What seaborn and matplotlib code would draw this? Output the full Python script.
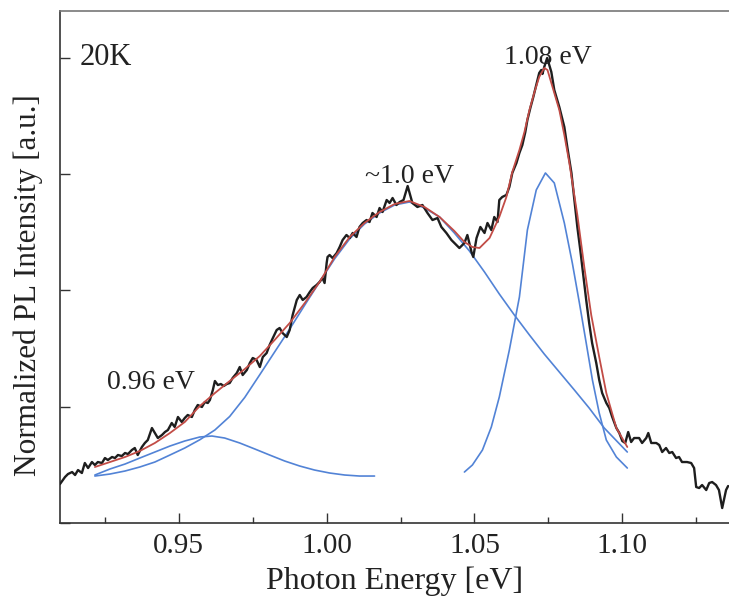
import matplotlib
matplotlib.use("Agg")
import matplotlib.pyplot as plt
from matplotlib.ticker import MultipleLocator, NullFormatter
import numpy as np
import pandas as pd
import seaborn as sns

# Measured PL spectrum at 20 K (photon energy in eV, normalized intensity)
pl_energy = [
    0.9098, 0.9115, 0.9125, 0.9139, 0.9149, 0.9159, 0.9172, 0.9182, 0.9193, 0.9206,
    0.9216, 0.9226, 0.9240, 0.9250, 0.9260, 0.9274, 0.9284, 0.9294, 0.9307, 0.9318,
    0.9328, 0.9341, 0.9351, 0.9361, 0.9375, 0.9385, 0.9395, 0.9409, 0.9419, 0.9429,
    0.9443, 0.9453, 0.9463, 0.9476, 0.9486, 0.9497, 0.9510, 0.9520, 0.9530, 0.9544,
    0.9554, 0.9564, 0.9578, 0.9588, 0.9598, 0.9605, 0.9615, 0.9622, 0.9632, 0.9642,
    0.9652, 0.9662, 0.9672, 0.9682, 0.9696, 0.9706, 0.9716, 0.9730, 0.9740, 0.9750,
    0.9763, 0.9774, 0.9784, 0.9797, 0.9807, 0.9818, 0.9831, 0.9841, 0.9851, 0.9865,
    0.9875, 0.9885, 0.9899, 0.9909, 0.9919, 0.9932, 0.9943, 0.9953, 0.9966, 0.9976,
    0.9986, 0.9993, 1.0000, 1.0003, 1.0010, 1.0020, 1.0034, 1.0044, 1.0054, 1.0067,
    1.0078, 1.0088, 1.0101, 1.0111, 1.0122, 1.0135, 1.0145, 1.0155, 1.0169, 1.0179,
    1.0189, 1.0203, 1.0213, 1.0223, 1.0236, 1.0247, 1.0260, 1.0274, 1.0290, 1.0307,
    1.0324, 1.0341, 1.0358, 1.0375, 1.0388, 1.0405, 1.0422, 1.0439, 1.0449, 1.0466,
    1.0476, 1.0490, 1.0496, 1.0507, 1.0520, 1.0534, 1.0544, 1.0557, 1.0567, 1.0578,
    1.0584, 1.0594, 1.0608, 1.0618, 1.0628, 1.0642, 1.0652, 1.0662, 1.0672, 1.0679,
    1.0689, 1.0699, 1.0709, 1.0719, 1.0726, 1.0730, 1.0736, 1.0746, 1.0760, 1.0770,
    1.0787, 1.0804, 1.0814, 1.0828, 1.0838, 1.0848, 1.0858, 1.0868, 1.0878, 1.0888,
    1.0898, 1.0912, 1.0922, 1.0932, 1.0946, 1.0956, 1.0966, 1.0980, 1.0990, 1.1000,
    1.1010, 1.1020, 1.1030, 1.1040, 1.1057, 1.1067, 1.1081, 1.1088, 1.1098, 1.1115,
    1.1125, 1.1135, 1.1148, 1.1159, 1.1169, 1.1182, 1.1192, 1.1202, 1.1219, 1.1233,
    1.1243, 1.1250, 1.1260, 1.1270, 1.1284, 1.1294, 1.1304, 1.1317, 1.1327, 1.1338,
    1.1351, 1.1358,
]
pl_intensity = [
    0.0838, 0.0989, 0.1053, 0.1096, 0.1032, 0.1139, 0.1075, 0.1290, 0.1182, 0.1311,
    0.1247, 0.1311, 0.1290, 0.1397, 0.1354, 0.1419, 0.1397, 0.1462, 0.1440, 0.1505,
    0.1483, 0.1569, 0.1612, 0.1462, 0.1634, 0.1720, 0.1784, 0.2042, 0.1935, 0.1827,
    0.1892, 0.1956, 0.1999, 0.2150, 0.2064, 0.2279, 0.2171, 0.2257, 0.2322, 0.2279,
    0.2429, 0.2537, 0.2494, 0.2601, 0.2580, 0.2644, 0.2859, 0.3052, 0.2966, 0.2988,
    0.2945, 0.2988, 0.3009, 0.3117, 0.3224, 0.3353, 0.3181, 0.3289, 0.3439, 0.3547,
    0.3504, 0.3353, 0.3568, 0.3654, 0.3826, 0.3977, 0.4149, 0.4192, 0.4084, 0.3998,
    0.4149, 0.4471, 0.4794, 0.4901, 0.4794, 0.4858, 0.4966, 0.5052, 0.5116, 0.5181,
    0.5267, 0.5159, 0.5589, 0.5718, 0.5761, 0.5696, 0.5804, 0.5933, 0.6083, 0.6191,
    0.6126, 0.6234, 0.6148, 0.6363, 0.6449, 0.6513, 0.6470, 0.6664, 0.6578, 0.6771,
    0.6685, 0.6943, 0.6879, 0.6986, 0.6836, 0.6900, 0.6943, 0.7244, 0.6879, 0.6793,
    0.6836, 0.6664, 0.6513, 0.6556, 0.6363, 0.6234, 0.6083, 0.5976, 0.5911, 0.6019,
    0.6191, 0.5825, 0.5718, 0.6126, 0.6363, 0.6234, 0.6449, 0.6298, 0.6578, 0.6470,
    0.6943, 0.7008, 0.7051, 0.7223, 0.7524, 0.7739, 0.7954, 0.8125, 0.8405, 0.8663,
    0.8921, 0.9157, 0.9415, 0.9673, 0.9738, 0.9652, 0.9802, 0.9996, 0.9695, 0.9308,
    0.8942, 0.8512, 0.8082, 0.7524, 0.6943, 0.6363, 0.5868, 0.5331, 0.4794, 0.4299,
    0.3869, 0.3439, 0.3074, 0.2794, 0.2580, 0.2472, 0.2279, 0.2042, 0.1935, 0.1763,
    0.1720, 0.1956, 0.1741, 0.1827, 0.1827, 0.1720, 0.1827, 0.1935, 0.1720, 0.1720,
    0.1677, 0.1526, 0.1612, 0.1505, 0.1526, 0.1397, 0.1419, 0.1311, 0.1311, 0.1290,
    0.1182, 0.0774, 0.0752, 0.0817, 0.0709, 0.0860, 0.0881, 0.0817, 0.0709, 0.0322,
    0.0709, 0.0795,
]

# Total fit (sum of components)
fit_energy = [
    0.9216, 0.9267, 0.9318, 0.9368, 0.9419, 0.9470, 0.9520, 0.9571, 0.9622, 0.9672,
    0.9723, 0.9774, 0.9824, 0.9875, 0.9926, 0.9976, 1.0027, 1.0078, 1.0128, 1.0179,
    1.0230, 1.0280, 1.0331, 1.0382, 1.0432, 1.0466, 1.0493, 1.0517, 1.0551, 1.0584,
    1.0608, 1.0628, 1.0652, 1.0669, 1.0686, 1.0703, 1.0719, 1.0736, 1.0747, 1.0760,
    1.0787, 1.0804, 1.0821, 1.0848, 1.0872, 1.0895, 1.0922, 1.0946, 1.0980, 1.1017,
]
fit_total = [
    0.1204, 0.1311, 0.1419, 0.1548, 0.1720, 0.1935, 0.2171, 0.2515, 0.2794, 0.3052,
    0.3310, 0.3590, 0.3934, 0.4299, 0.4729, 0.5181, 0.5718, 0.6148, 0.6449, 0.6685,
    0.6857, 0.6922, 0.6793, 0.6578, 0.6277, 0.6040, 0.5933, 0.5911, 0.6126, 0.6578,
    0.7008, 0.7545, 0.8018, 0.8405, 0.8878, 0.9265, 0.9587, 0.9781, 0.9738, 0.9458,
    0.8878, 0.8340, 0.7739, 0.6621, 0.5481, 0.4471, 0.3568, 0.2794, 0.2042, 0.1634,
]

# Fit component peaked near 0.96 eV
peak096_energy = [
    0.9216, 0.9267, 0.9318, 0.9368, 0.9419, 0.9470, 0.9520, 0.9571, 0.9612, 0.9655,
    0.9706, 0.9757, 0.9807, 0.9858, 0.9909, 0.9959, 1.0010, 1.0061, 1.0111, 1.0162,
]
peak096_intensity = [
    0.1032, 0.1161, 0.1268, 0.1397, 0.1526, 0.1655, 0.1763, 0.1849, 0.1870, 0.1827,
    0.1720, 0.1591, 0.1462, 0.1333, 0.1225, 0.1139, 0.1075, 0.1032, 0.1010, 0.1010,
]

# Broad fit component near 1.0 eV
peak100_energy = [
    0.9216, 0.9267, 0.9318, 0.9368, 0.9419, 0.9470, 0.9520, 0.9571, 0.9622, 0.9672,
    0.9723, 0.9774, 0.9824, 0.9875, 0.9926, 0.9976, 1.0027, 1.0078, 1.0128, 1.0179,
    1.0230, 1.0280, 1.0331, 1.0382, 1.0432, 1.0483, 1.0534, 1.0584, 1.0635, 1.0686,
    1.0736, 1.0787, 1.0838, 1.0888, 1.0939, 1.1017,
]
peak100_intensity = [
    0.1010, 0.1053, 0.1118, 0.1204, 0.1311, 0.1462, 0.1612, 0.1790, 0.2000, 0.2290,
    0.2700, 0.3190, 0.3676, 0.4170, 0.4686, 0.5181, 0.5680, 0.6110, 0.6427, 0.6664,
    0.6836, 0.6900, 0.6771, 0.6578, 0.6234, 0.5847, 0.5395, 0.4923, 0.4471, 0.4041,
    0.3633, 0.3246, 0.2859, 0.2472, 0.2042, 0.1526,
]

# Narrow fit component at 1.08 eV
peak108_energy = [
    1.0466, 1.0493, 1.0527, 1.0557, 1.0584, 1.0618, 1.0652, 1.0679, 1.0709, 1.0740,
    1.0770, 1.0804, 1.0831, 1.0855, 1.0878, 1.0899, 1.0922, 1.0946, 1.0980, 1.1017,
]
peak108_intensity = [
    0.1096, 0.1247, 0.1569, 0.2064, 0.2708, 0.3719, 0.4858, 0.6298, 0.7158, 0.7524,
    0.7309, 0.6449, 0.5589, 0.4729, 0.3869, 0.3074, 0.2365, 0.1784, 0.1419, 0.1182,
]

sns.set_theme(style="ticks")
plt.rcParams["font.family"] = ["Liberation Serif", "DejaVu Serif"]

fig = plt.figure(figsize=(7.29, 6.0), dpi=100)
fig.patch.set_facecolor("white")
ax = fig.add_axes([0.0823, 0.1283, 0.9177, 0.8534])

blue = "#5283d6"
for xs, ys in [(peak096_energy, peak096_intensity),
               (peak100_energy, peak100_intensity),
               (peak108_energy, peak108_intensity)]:
    d = pd.DataFrame({"E": xs, "I": ys})
    sns.lineplot(data=d, x="E", y="I", ax=ax, color=blue, linewidth=1.2,
                 sort=False, estimator=None, zorder=2)

spec = pd.DataFrame({"E": pl_energy, "I": pl_intensity})
sns.lineplot(data=spec, x="E", y="I", ax=ax, color="#1e1e1e", linewidth=1.7,
             sort=False, estimator=None, zorder=3)

fit = pd.DataFrame({"E": fit_energy, "I": fit_total})
sns.lineplot(data=fit, x="E", y="I", ax=ax, color="#c24c46", linewidth=1.3,
             sort=False, estimator=None, zorder=4)

ax.set_xlim(0.9098, 1.1361)
ax.set_ylim(0.0, 1.1006)

ax.xaxis.set_major_locator(MultipleLocator(0.05))
ax.xaxis.set_minor_locator(MultipleLocator(0.025))
ax.xaxis.set_major_formatter(plt.FuncFormatter(lambda v, p: f"{v:.2f}"))
ax.yaxis.set_major_locator(MultipleLocator(0.25))
ax.yaxis.set_major_formatter(NullFormatter())

ax.tick_params(axis="both", which="major", direction="in", length=7, width=1.0,
               color="#333333", labelsize=21, pad=7, labelcolor="#222222")
ax.tick_params(axis="x", which="minor", direction="in", length=4, width=1.0,
               color="#333333")
ax.tick_params(top=False, right=False)

for side in ["left", "bottom", "top"]:
    ax.spines[side].set_color("#333333")
    ax.spines[side].set_linewidth(1.2)
ax.spines["top"].set_color("#777777")
ax.spines["right"].set_visible(False)

ax.set_xlabel("Photon Energy [eV]", fontsize=23, color="#222222")
ax.set_ylabel("Normalized PL Intensity [a.u.]", fontsize=22.5, color="#222222")
ax.xaxis.set_label_coords(0.5, -0.085)
ax.yaxis.set_label_coords(-0.025, 0.465)

ax.text(0.9165, 1.0, "20K", fontsize=22, ha="left", va="center", color="#222222")
ax.text(1.0747, 1.0, "1.08 eV", fontsize=20, ha="center", va="center", color="#222222")
ax.text(1.0280, 0.745, "~1.0 eV", fontsize=20, ha="center", va="center", color="#222222")
ax.text(0.9405, 0.303, "0.96 eV", fontsize=20, ha="center", va="center", color="#222222")

fig.savefig("out.png", dpi=100, facecolor="white")
